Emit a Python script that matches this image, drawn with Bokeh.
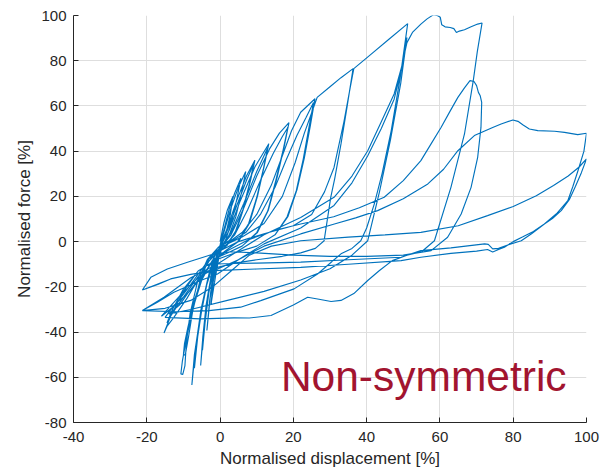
from bokeh.plotting import figure
from bokeh.models import Range1d, FixedTicker, Label, PrintfTickFormatter
from bokeh.embed import file_html
from bokeh.resources import INLINE

# ---- data: normalised displacement [%] and force [%], cycle by cycle ----
c01_disp = [0, 1, 2, 3.5, 2.8, 1.5, 0, -0.8, -1.5, -1.1, -0.6, 0]
c01_force = [0, 8, 14, 20, 12, 3, -3, -10, -18, -11, -5, -1.5]

c02_disp = [1, 2.5, 4, 5.7, 4.6, 3.2, 1.6, 0, -1.2, -2.5, -1.8, -1, 0]
c02_force = [5, 14.5, 21.5, 28, 19, 9, 1, -4, -15, -28, -17, -7, -1.5]

c03_disp = [1.2, 3, 5, 7, 5.9, 4.3, 2.5, 0.5, -1.5, -2.7, -3.6, -2.9, -2, -1, 0.3]
c03_force = [5, 15, 24, 31, 22, 11, 3, -3, -12, -25, -39.3, -27, -15, -6, -0.5]

c04_disp = [2, 4.5, 7.2, 9.5, 8.3, 6.5, 4.5, 2, -0.5, -2.3, -3.8, -4.7, -5.3, -4.5, -3.4, -2.1, -0.8, 0.5]
c04_force = [6, 18, 29, 36, 27, 15, 5, -1.5, -5, -14, -28, -42, -54.8, -40, -25, -13, -5, -0.5]

c04b_disp = [2, 4.8, 7.3, 9.2, 8.0, 6.2, 4.2, 1.8, -0.5, -2.2, -3.5, -4.3, -4.8, -4.1, -3.1, -1.9, -0.7, 0.6]
c04b_force = [5, 17, 27.5, 34.5, 25.5, 14, 4.5, -1.5, -5, -13, -25, -37, -48, -36, -23, -12, -4.5, -0.5]

c05_disp = [2.5, 5.5, 9.5, 13.3, 12, 10.2, 8, 5, 1.5, -1.5, -3.8, -5.8, -7, -7.7, -6.7, -5.2, -3.3, -1.5, 0.8]
c05_force = [5, 18, 33, 43.3, 33, 20, 8, 0, -4, -8, -20, -37, -50, -63.4, -47, -30, -16, -6, -1]

c05b_disp = [3, 6.5, 10, 13, 11.8, 10, 7.8, 4.8, 1.5, -1.5, -3.5, -5.3, -6.4, -7, -6.1, -4.7, -3, -1.3, 1]
c05b_force = [4, 17, 31, 41.5, 32, 19.5, 8, 0, -4, -8, -18, -33, -45, -56, -42, -27, -14, -5.5, -1]

c06_disp = [3, 6.5, 10, 13.5, 16.2, 18.8, 17.5, 15.5, 13.2, 10.2, 6, 2, -2, -5, -7.5, -9.3, -10.3,
            -10.7, -10.2, -9.6, -9.2, -8.2, -6.2, -3.5, -0.5, 2.5]
c06_force = [3, 15, 29, 41, 48, 52.6, 42, 28, 14, 4, -2, -5, -8, -17, -30, -44, -53,
             -58.5, -58.8, -55, -45, -32, -18, -8, -2.5, 0.5]

c06b_disp = [4, 7.5, 11, 14.5, 17, 18.5, 17.2, 15.2, 13, 10, 6, 2, -2, -5, -7.2, -8.8, -9.7, -10,
             -9.5, -8.6, -7.5, -5.6, -3.2, -0.5, 3]
c06b_force = [3, 14, 27, 39, 46.5, 50.5, 40.5, 27, 13.5, 4, -2, -5, -8, -16, -27, -38, -45, -50,
              -50.2, -42, -31, -18, -8, -2.5, 0.5]

c07_disp = [6, 10, 14, 17, 19.5, 22, 25.9, 24.6, 23, 21, 18.5, 15, 10, 4, -1, -6, -10, -13.5,
            -15.3, -14.5, -12.6, -9, -5, -2, 1]
c07_force = [4, 12, 25, 38, 49, 57.2, 63.2, 51, 37, 23, 11, 3, -2, -5, -8, -13, -22, -33,
             -40.4, -37.5, -33.5, -25, -14, -6, -2]

c07b_disp = [7, 11, 15, 18, 21, 23.5, 25.5, 24.2, 22.7, 20.8, 18.3, 15, 10, 4, -1, -6, -10, -13,
             -14.5, -13.5, -11.5, -8, -4, -1, 2]
c07b_force = [4, 12, 24, 36, 47, 55, 61.5, 50, 36.5, 22.5, 11, 3, -2, -5, -8, -13, -21, -30,
              -36, -33, -28, -20, -11, -4, -1]

c08_disp = [6, 12, 17, 20.5, 23, 25, 26.5, 30, 33, 36.3, 34.7, 33, 31.3, 30.2, 28.4, 26, 22, 17,
            10, 4, -1, -6, -11, -16, -12.5, -8.5, -4, 0, 5]
c08_force = [2, 8, 20, 35, 48, 57, 63.8, 68.5, 72.5, 76.5, 60, 43.2, 28, 19.6, 0.4, -3, -5, -6.5,
             -8, -9.5, -11.5, -16, -24, -33, -28.5, -20, -10, -4, 0]

c09_disp = [12, 20, 25, 28.5, 31.1, 33.8, 35.5, 36.5, 41, 46, 51.2, 49.2, 46.7, 44.2, 42.1, 40,
            38.4, 36, 33, 26.6, 20.2, 11.1, 5.6, -3, -12, -21.2]
c09_force = [3.5, 7, 12, 22, 32.8, 53, 68, 76.5, 82.6, 89.4, 96.4, 73, 49, 30, 16.7, 6, 0.4,
             -3, -5.4, -14.3, -20.9, -26.1, -29, -30.5, -31, -30.5]

c09b_disp = [-17.1, -12.6, -5.3, -0.7, 5, 12, 22, 31.1, 36, 40.3, 44, 47.5, 49.5, 51, 49.3, 46.5,
             43.5, 40.3, 36, 30, 22, 12, 2, -8, -14]
c09b_force = [-26.8, -22.4, -17.2, -14.3, -8, -1, 6, 16, 26, 38, 50, 63, 76, 90.3, 70, 45, 22,
              0.4, -6, -12, -17, -22, -26, -30, -32]

c10_disp = [-11, -8.9, -4, -0.7, 5, 12, 22, 31.1, 36, 40.3, 44, 47.5, 49.5, 51, 52.5, 54.8, 56.5,
            58.3, 59.4, 60.1, 60.5, 61.4, 62.8, 63.8, 64.5, 65.3, 66.7, 68.5, 70.3, 71.5,
            70.2, 69.1, 66.7, 63, 58.5, 55, 51, 47, 43.5, 40.3, 36.5, 33, 30.3, 27, 23.9, 20, 13.9,
            8, 3.8, -5.3, -12, -15]
c10_force = [-28, -23, -14, -9.9, -4, 3, 10.7, 19.6, 29, 40.2, 53, 65.3, 77, 88, 92.5, 96.2, 98.5,
             100.4, 99.9, 99.2, 95.9, 95, 94.7, 94.2, 92.5, 93.1, 93.7, 95, 96.2, 96.7,
             84, 71.2, 47.6, 24, 0.4, -4.5, -6, -8.4, -12.8, -17.2, -23, -26, -26.5, -25.5,
             -24.6, -28, -32.7, -33.8, -33.7, -34.2, -33.7, -33.5]

c11_disp = [-12.5, -8.9, -5, -2, 2, 8, 15, 22, 31, 38, 44.8, 50, 54.8, 57.5, 60.3, 62.7, 64.9, 66.7,
            68.2, 69.3, 70, 70.5, 71, 71.4, 71.2, 70.3, 68.5, 65.8, 62.1, 57.6, 50, 40, 30, 20, 10,
            3, -1.6, -8.9, -14.4, -18.9, -21.2]
c11_force = [-28, -23, -15, -9, -4, 1, 5, 7.8, 11, 15, 19.6, 27, 35.8, 43, 50.5, 57.5, 63.8, 68,
             71.2, 70.8, 69, 66, 64.5, 61.6, 50.5, 37.3, 24, 12.2, 1.9, -4, -6, -6.5, -6.5, -6, -5,
             -4.5, -5.4, -9.1, -12.1, -15.8, -21.4]

c12_disp = [-17, -13.5, -8, -1.6, 5, 12, 22, 31.2, 37, 43, 50, 56.7, 61, 64.9, 69.4, 74.4, 76.7,
            79.9, 81.3, 82.6, 84.4, 86.7, 91.3, 94, 97.6, 100, 99.3, 97.8, 96.3, 94.9, 91.8, 88.5,
            85, 82.2, 78.5, 76, 74.4, 73.2, 72.2, 63, 54.8, 49.4, 35, 22, 10, 3, -0.7, -8, -15.3,
            -21.2]
c12_force = [-19, -16.5, -14.5, -12.8, -8, -2, 3.4, 7.8, 10.5, 13.7, 19, 25.5, 32, 40.2, 46.9, 50.5,
             52, 53.8, 53.2, 51.7, 49.8, 49.1, 48.8, 48.3, 47.3, 47.9, 40, 32, 24.5, 18.1, 12.3,
             7.8, 3.5, 0.4, -1.5, -3, -3.2, -1.2, -1, -2.8, -4, -6.9, -8, -9.1, -9.5, -9.7, -9.9,
             -16, -24.6, -30.5]

c13_disp = [-15, -8, -2, 3, 8, 14, 22, 35, 45, 54.8, 65, 73, 80, 86.3, 91, 95, 98, 100, 98.6, 97,
            95.3, 93.1, 90.7, 88.5, 85.5, 82.5, 80, 77.6, 76, 74.4, 73, 70, 63, 54.8, 49.4, 35, 22,
            10, -1.6, -8, -13.5, -21.2]
c13_force = [-29.5, -26, -20, -13, -6, -2, 0.4, 2, 3, 4.1, 7, 11.5, 15.5, 20.3, 24.8, 29, 33, 36.6,
             30.5, 24.5, 18.5, 13.7, 10.2, 7.8, 4.5, 2, 0, -2.5, -3.5, -4.6, -3.5, -4.2, -5.2,
             -6.9, -8.4, -10, -11.4, -12.1, -12.8, -14.5, -16.5, -21.4]

x_ticks = [-40, -20, 0, 20, 40, 60, 80, 100]
y_ticks = [-80, -60, -40, -20, 0, 20, 40, 60, 80, 100]

disp = (c01_disp + c02_disp + c03_disp + c04_disp + c04b_disp + c05_disp + c05b_disp
        + c06_disp + c06b_disp + c07_disp + c07b_disp + c08_disp
        + c09_disp + c09b_disp + c10_disp + c11_disp + c12_disp + c13_disp)
force = (c01_force + c02_force + c03_force + c04_force + c04b_force + c05_force + c05b_force
         + c06_force + c06b_force + c07_force + c07b_force + c08_force
         + c09_force + c09b_force + c10_force + c11_force + c12_force + c13_force)

FONT = "Liberation Sans"
DARK = "#262626"

p = figure(width=600, height=472, x_range=Range1d(-40, 100), y_range=Range1d(-80, 100),
           output_backend="svg", toolbar_location=None,
           min_border_left=73, min_border_right=14, min_border_top=15, min_border_bottom=50)
p.outline_line_color = None
p.background_fill_color = "white"
p.border_fill_color = "white"

p.line(disp, force, line_color="#0072BD", line_width=1.15)

for ax, ticks in ((p.xaxis[0], x_ticks), (p.yaxis[0], y_ticks)):
    ax.ticker = FixedTicker(ticks=ticks)
    ax.formatter = PrintfTickFormatter(format="%d")
    ax.axis_line_color = DARK
    ax.major_tick_line_color = DARK
    ax.major_tick_in = 5
    ax.major_tick_out = 0
    ax.minor_tick_line_color = None
    ax.major_label_text_font = FONT
    ax.major_label_text_font_size = "15px"
    ax.major_label_text_color = DARK
    ax.axis_label_text_font = FONT
    ax.axis_label_text_font_size = "17px"
    ax.axis_label_text_font_style = "normal"
    ax.axis_label_text_color = DARK

p.xaxis.axis_label = "Normalised displacement [%]"
p.yaxis.axis_label = "Normalised force [%]"
p.xaxis.major_label_standoff = 9
p.yaxis.major_label_standoff = 7
p.xaxis.axis_label_standoff = 4
p.yaxis.axis_label_standoff = 4

p.xgrid.ticker = FixedTicker(ticks=x_ticks)
p.ygrid.ticker = FixedTicker(ticks=y_ticks)
for g in (p.xgrid[0], p.ygrid[0]):
    g.grid_line_color = "#dedede"
    g.grid_line_width = 1

p.add_layout(Label(x=16.6, y=-59.5, text="Non-symmetric", text_font=FONT,
                   text_font_size="42.5px", text_color="#A2142F",
                   text_baseline="alphabetic", text_align="left"))

open("out.html", "w").write(file_html(p, INLINE))
